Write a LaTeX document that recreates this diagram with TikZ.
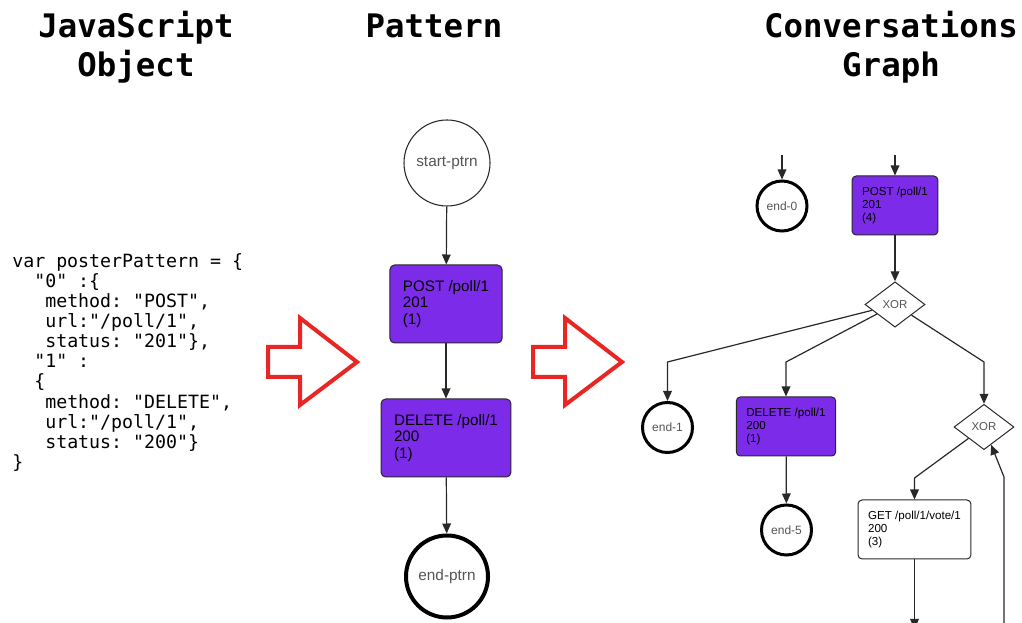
\documentclass[tikz,border=0pt]{standalone}
\usepackage{fontspec}
\setmainfont{Liberation Sans}
\newfontfamily\codefont{DejaVu Sans Mono}
\usetikzlibrary{arrows.meta,shapes.geometric}
\definecolor{ptrnpurple}{RGB}{124,44,232}
\definecolor{hintred}{RGB}{232,38,36}
\definecolor{labelgrey}{RGB}{85,85,85}
\definecolor{edgegrey}{RGB}{40,40,40}

\begin{document}
\begin{tikzpicture}[x=0.75pt,y=-0.75pt,
    heading/.style={font=\codefont\bfseries\fontsize{24.3}{29}\selectfont, anchor=base, inner sep=0pt},
    code/.style={font=\codefont\frenchspacing\fontsize{13.7}{15.1}\selectfont, anchor=north west, align=left, inner sep=0pt},
    flow/.style={draw=edgegrey, line width=0.9pt, -{Triangle[length=7.5pt,width=6.5pt]}},
    hint/.style={draw=hintred, line width=3pt},
    startnode/.style={circle, draw=edgegrey, line width=0.8pt, fill=white, minimum size=64.5pt, inner sep=0pt, text=labelgrey, font=\fontsize{11.5}{13}\selectfont},
    endnode/.style={circle, draw=black, line width=3pt, fill=white, minimum size=61.5pt, inner sep=0pt, text=labelgrey, font=\fontsize{11.5}{13}\selectfont},
    smallend/.style={circle, draw=black, line width=2.25pt, fill=white, minimum size=37.5pt, inner sep=0pt, text=labelgrey, font=\fontsize{9}{10}\selectfont},
    bigstep/.style={rectangle, rounded corners=3.5pt, draw=edgegrey, line width=0.75pt, fill=ptrnpurple, align=left, inner xsep=9.75pt, inner ysep=0pt, minimum height=58.5pt, font=\fontsize{11.4}{12.6}\selectfont},
    smallstep/.style={rectangle, rounded corners=3pt, draw=edgegrey, line width=0.75pt, fill=ptrnpurple, align=left, inner xsep=7.5pt, inner ysep=0pt, minimum height=44.25pt, font=\fontsize{8.7}{9.8}\selectfont},
    xornode/.style={diamond, draw=edgegrey, line width=0.75pt, fill=white, minimum width=45pt, minimum height=34pt, inner sep=0pt, text=labelgrey, font=\fontsize{8.6}{10}\selectfont}
  ]
  \useasboundingbox (0,0) rectangle (1022,623);
  \clip (0,0) rectangle (1022,623);

  % headings
  \node[heading] (jshead) at (136,38) {JavaScript};
  \node[heading] (jsheadb) at (136,77) {Object};
  \node[heading] (ptrnhead) at (434,38) {Pattern};
  \node[heading] (convhead) at (891,38) {Conversations};
  \node[heading] (convheadb) at (891,77) {Graph};

  % javascript object
  \node[code] (jsobj) at (12,253) {var posterPattern = \{\\
~~"0" :\{\\
~~~method: "POST",\\
~~~url:"/poll/1",\\
~~~status: "201"\},\\
~~"1" :\\
~~\{\\
~~~method: "DELETE",\\
~~~url:"/poll/1",\\
~~~status: "200"\}\\
\}};

  % red hint arrows
  \foreach \dx in {0,265} {
    \draw[hint] ({268+\dx},347) -- ({300+\dx},347) -- ({300+\dx},318) -- ({357+\dx},362)
      -- ({300+\dx},405) -- ({300+\dx},377) -- ({268+\dx},377) -- cycle;
  }

  % pattern
  \node[startnode] (startp) at (447,163) {start-ptrn};
  \node[bigstep] (ppost) at (446,304) {POST /poll/1\\201\\(1)};
  \node[bigstep] (pdel) at (446,438) {DELETE /poll/1\\200\\(1)};
  \node[endnode] (endp) at (447,576.5) {end-ptrn};
  \draw[flow] (startp) -- (ppost);
  \draw[flow] (ppost) -- (pdel);
  \draw[flow] (pdel) -- (endp);

  % conversations graph
  \node[smallend] (end0) at (782,206) {end-0};
  \node[smallstep] (gpost) at (895,205.5) {POST /poll/1\\201\\(4)};
  \node[xornode] (xor1) at (895,304.5) {XOR};
  \node[smallend] (end1) at (667.5,427.5) {end-1};
  \node[smallstep] (gdel) at (786,426.5) {DELETE /poll/1\\200\\(1)};
  \node[xornode] (xor2) at (984,427) {XOR};
  \node[smallend] (end5) at (786.5,530) {end-5};
  \node[smallstep, fill=white] (get) at (914.5,529.5) {GET /poll/1/vote/1\\200\\(3)};

  \coordinate (gin0) at (782,155);
  \coordinate (gin1) at (895,155);
  \coordinate (bend1) at (667.5,362);
  \coordinate (bend2) at (786,362);
  \coordinate (bend3) at (984,362);
  \coordinate (bend4) at (914.5,478);
  \coordinate (bend5) at (1004,477);
  \coordinate (gout) at (914.5,629);
  \coordinate (gback) at (1004,640);

  \draw[flow] (gin0) -- (end0);
  \draw[flow] (gin1) -- (gpost);
  \draw[flow] (gpost) -- (xor1);
  \draw[flow] (xor1) -- (bend1) -- (end1);
  \draw[flow] (xor1) -- (bend2) -- (gdel);
  \draw[flow] (xor1) -- (bend3) -- (xor2);
  \draw[flow] (gdel) -- (end5);
  \draw[flow] (xor2) -- (bend4) -- (get);
  \draw[flow] (get) -- (gout);
  \draw[flow] (gback) -- (bend5) -- (xor2);
\end{tikzpicture}
\end{document}
